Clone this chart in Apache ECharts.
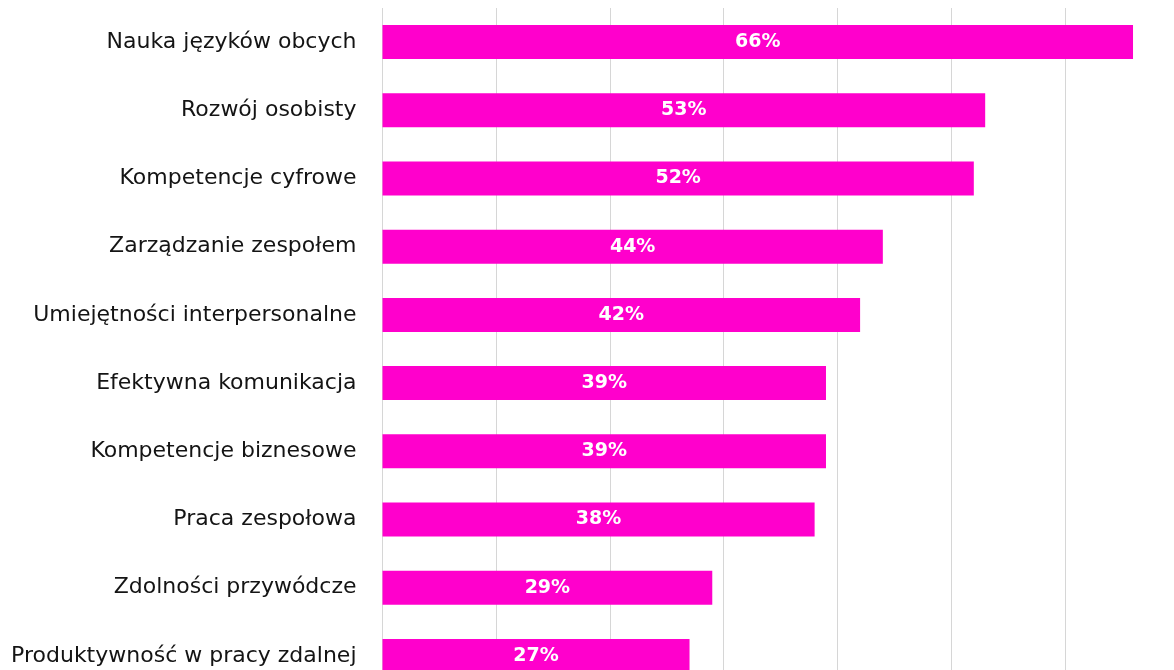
<!DOCTYPE html>
<html>
<head>
<meta charset="utf-8">
<script src="https://cdn.jsdelivr.net/npm/echarts@6/dist/echarts.min.js"></script>
<style>
  html, body { margin: 0; padding: 0; background: #fff; overflow: hidden; }
  /* the source picture is cropped: last gridline and bottom of last bar fall outside */
  #chart { width: 1180px; height: 690px; }
</style>
</head>
<body>
<div id="chart"></div>
<script>
  const categories = [
    'Nauka języków obcych',
    'Rozwój osobisty',
    'Kompetencje cyfrowe',
    'Zarządzanie zespołem',
    'Umiejętności interpersonalne',
    'Efektywna komunikacja',
    'Kompetencje biznesowe',
    'Praca zespołowa',
    'Zdolności przywódcze',
    'Produktywność w pracy zdalnej'
  ]
  const values = [66, 53, 52, 44, 42, 39, 39, 38, 29, 27]

  const chart = echarts.init(document.getElementById('chart'))
  const option = {
    animation: false,
    grid: {
      left: 382.5,
      right: 1.5,
      top: 8,
      bottom: 0,
      containLabel: false
    },
    xAxis: {
      type: 'value',
      min: 0,
      max: 70,
      interval: 10,
      axisLabel: { show: false },
      axisLine: { show: false },
      axisTick: { show: false },
      splitLine: {
        show: true,
        lineStyle: { color: '#d6d6d6', width: 1 }
      }
    },
    yAxis: {
      type: 'category',
      inverse: true,
      data: categories,
      axisLine: { show: false },
      axisTick: { show: false },
      axisLabel: {
        margin: 26,
        color: '#141414',
        fontSize: 22,
        fontFamily: 'DejaVu Sans'
      }
    },
    series: [
      {
        type: 'bar',
        data: values,
        barWidth: 34,
        itemStyle: { color: '#ff00cc' },
        label: {
          show: true,
          position: 'inside',
          color: '#fff',
          fontSize: 19,
          fontWeight: 'bold',
          fontFamily: 'DejaVu Sans',
          formatter: '{c}%'
        }
      }
    ]
  }
  chart.setOption(option)
</script>
</body>
</html>
